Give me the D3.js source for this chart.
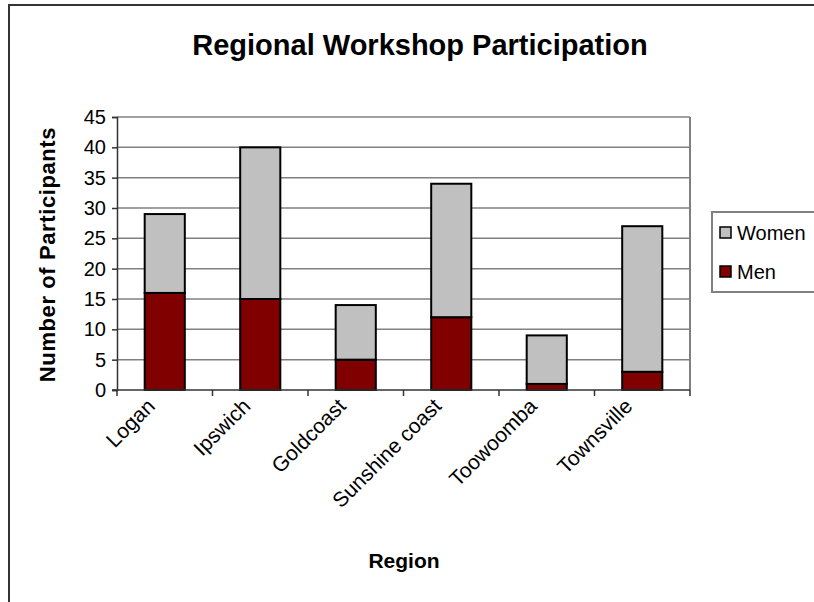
<!DOCTYPE html>
<html><head><meta charset="utf-8">
<script src="https://cdn.jsdelivr.net/npm/d3@7"></script>
<style>body{margin:0;background:#fff}svg{display:block}text{font-family:"Liberation Sans",Arial,sans-serif}</style>
</head><body>
<script>
const categories = ["Logan","Ipswich","Goldcoast","Sunshine coast","Toowoomba","Townsville"];
const men = [16,15,5,12,1,3];
const women = [13,25,9,22,8,24];
const seriesNames = ["Men","Women"];
const yTicks = [0,5,10,15,20,25,30,35,40,45];
const colors = {Men:"#800000", Women:"#C0C0C0"};

const W=814,H=602;
const svg=d3.select("body").append("svg").attr("width",W).attr("height",H);
svg.append("rect").attr("width",W).attr("height",H).attr("fill","#fff");
// outer frame
svg.append("rect").attr("x",9).attr("y",5).attr("width",900).attr("height",700)
  .attr("fill","none").attr("stroke","#333").attr("stroke-width",2);

const pl=117,pr=690,pt=117,pb=390;
const x=d3.scaleBand().domain(categories).range([pl,pr]).paddingInner(0.58).paddingOuter(0.29);
const xb=d3.scaleBand().domain(categories).range([pl,pr]);
const y=d3.scaleLinear().domain([0,45]).range([pb,pt]);

// gridlines
svg.append("g").selectAll("line").data(yTicks.filter(d=>d>0)).join("line")
  .attr("x1",pl).attr("x2",pr).attr("y1",d=>y(d)).attr("y2",d=>y(d))
  .attr("stroke","#808080").attr("stroke-width",1.5);
// right border of plot area
svg.append("line").attr("x1",pr).attr("x2",pr).attr("y1",pt).attr("y2",pb)
  .attr("stroke","#808080").attr("stroke-width",2);

const data=categories.map((c,i)=>({cat:c,Men:men[i],Women:women[i]}));
const stack=d3.stack().keys(seriesNames)(data);
svg.append("g").selectAll("g").data(stack).join("g")
  .attr("fill",d=>colors[d.key])
  .selectAll("rect").data(d=>d).join("rect")
  .attr("x",d=>x(d.data.cat)).attr("width",x.bandwidth())
  .attr("y",d=>y(d[1])).attr("height",d=>y(d[0])-y(d[1]))
  .attr("stroke","#000").attr("stroke-width",2);

// y axis
const ya=d3.axisLeft(y).tickValues(yTicks).tickSize(5).tickPadding(6);
const gy=svg.append("g").attr("transform",`translate(${pl},0)`).call(ya);
gy.select(".domain").attr("stroke","#333").attr("stroke-width",1.5);
gy.selectAll(".tick line").attr("stroke","#333").attr("stroke-width",1.5);
gy.selectAll(".tick text").attr("font-size",20).attr("fill","#000").attr("font-family","Liberation Sans, Arial");

// x axis line and ticks at band boundaries
svg.append("line").attr("x1",pl-5).attr("x2",pr).attr("y1",pb).attr("y2",pb).attr("stroke","#333").attr("stroke-width",1.5);
const bounds=categories.map(c=>xb(c)).concat([pr]);
svg.append("g").selectAll("line").data(bounds).join("line")
  .attr("x1",d=>d).attr("x2",d=>d).attr("y1",pb).attr("y2",pb+6).attr("stroke","#333").attr("stroke-width",1.5);
// x labels
svg.append("g").selectAll("text").data(categories).join("text")
  .attr("transform",d=>`translate(${xb(d)+xb.bandwidth()/2-19},${pb+7}) rotate(-45)`)
  .attr("text-anchor","end").attr("dy","0.7em").attr("font-size",21).attr("fill","#000").text(d=>d);

// titles
svg.append("text").attr("x",420).attr("y",55).attr("text-anchor","middle")
  .attr("font-size",29).attr("font-weight","bold").text("Regional Workshop Participation");
svg.append("text").attr("transform",`translate(55,${(pt+pb)/2+1}) rotate(-90)`).attr("text-anchor","middle")
  .attr("font-size",22).attr("font-weight","bold").attr("letter-spacing","0.6px").text("Number of Participants");
svg.append("text").attr("x",404).attr("y",568).attr("text-anchor","middle")
  .attr("font-size",21).attr("font-weight","bold").text("Region");

// legend
const lg=svg.append("g");
lg.append("rect").attr("x",712).attr("y",212).attr("width",130).attr("height",80)
  .attr("fill","#fff").attr("stroke","#808080").attr("stroke-width",2);
const legItems=["Women","Men"];
lg.selectAll("g.item").data(legItems).join("g").attr("class","item")
  .attr("transform",(d,i)=>`translate(720,${233+i*39})`)
  .each(function(d){
    const g=d3.select(this);
    g.append("rect").attr("x",0).attr("y",-6).attr("width",11).attr("height",11)
      .attr("fill",colors[d]).attr("stroke","#000").attr("stroke-width",1.5);
    g.append("text").attr("x",17).attr("y",0).attr("dy","0.35em").attr("font-size",20).text(d);
  });
</script>
</body></html>
